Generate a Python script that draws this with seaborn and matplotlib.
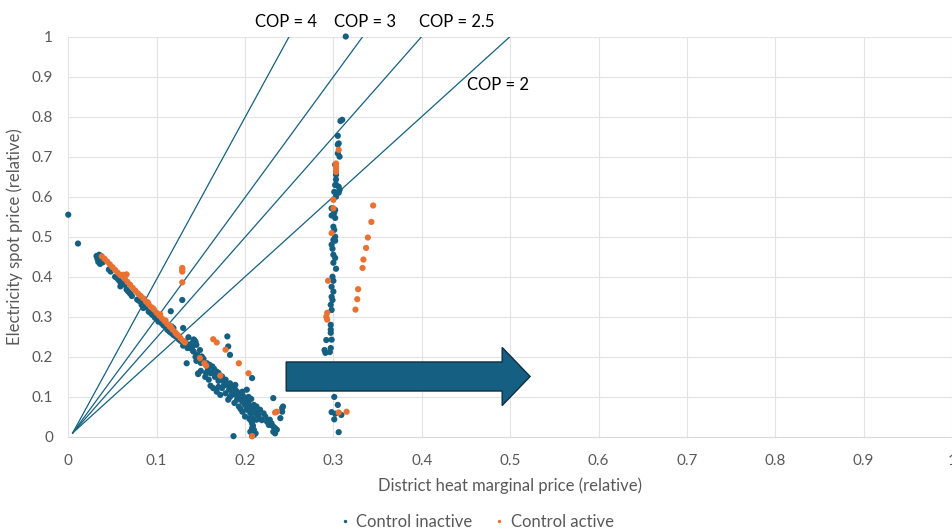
import numpy as np
import pandas as pd
import matplotlib
matplotlib.use("Agg")
import matplotlib.pyplot as plt
import matplotlib.patches as mpatches
import seaborn as sns

# 控制未启用 (blue) points: district heat price, electricity price
inactive_x = [
    0.000, 0.011,
    0.032, 0.035, 0.037, 0.033, 0.036, 0.034, 0.038, 0.039, 0.036,
    0.046, 0.048, 0.053, 0.055, 0.057, 0.059, 0.061, 0.059, 0.064, 0.066,
    0.068, 0.070, 0.072, 0.078, 0.080, 0.082, 0.083, 0.085, 0.088, 0.091,
    0.093, 0.095, 0.098, 0.100, 0.102, 0.104, 0.106, 0.108, 0.110, 0.112,
    0.114, 0.115, 0.117, 0.119, 0.121, 0.123, 0.125, 0.117, 0.119, 0.116,
    0.129, 0.130,
    0.127, 0.130, 0.132, 0.134, 0.136, 0.138, 0.140, 0.142, 0.144, 0.141,
    0.135, 0.130, 0.136, 0.142, 0.140, 0.145, 0.149,
    0.134, 0.146, 0.147, 0.147, 0.159, 0.161, 0.164, 0.131, 0.138, 0.142,
    0.151, 0.157, 0.163, 0.168, 0.174, 0.178, 0.183, 0.187, 0.191, 0.193,
    0.197, 0.200, 0.202, 0.206, 0.208, 0.208, 0.208, 0.210, 0.212, 0.213,
    0.215, 0.217, 0.221, 0.223, 0.225, 0.227, 0.191, 0.185, 0.181, 0.168,
    0.174, 0.178, 0.197, 0.202, 0.198, 0.204, 0.210, 0.213, 0.193, 0.197,
    0.200, 0.206,
    0.180, 0.181, 0.183, 0.208, 0.187, 0.232, 0.242, 0.228, 0.232, 0.236,
    0.230, 0.243, 0.242, 0.240, 0.234, 0.234, 0.229, 0.232,
    0.153, 0.160, 0.165, 0.170, 0.172, 0.176, 0.180, 0.185, 0.189, 0.194,
    0.199, 0.203, 0.206, 0.210, 0.212, 0.205, 0.207, 0.209, 0.210, 0.208,
    0.161, 0.170, 0.172, 0.183, 0.188, 0.195, 0.150, 0.155,
    0.176, 0.182, 0.186, 0.190, 0.194, 0.196, 0.199, 0.201, 0.203, 0.205,
    0.207, 0.209, 0.211, 0.214, 0.216, 0.219, 0.204, 0.207, 0.189, 0.166,
    0.170, 0.163, 0.158, 0.156, 0.145, 0.144, 0.150,
    0.314, 0.308, 0.310, 0.305, 0.305, 0.307, 0.303, 0.303, 0.306, 0.301,
    0.306, 0.303, 0.301, 0.302, 0.300, 0.301, 0.302, 0.300, 0.302, 0.300,
    0.303, 0.299, 0.300, 0.298, 0.300, 0.298, 0.299, 0.297, 0.298, 0.297,
    0.297, 0.297, 0.298, 0.297, 0.296, 0.306, 0.305, 0.302, 0.303, 0.302,
    0.307, 0.302, 0.298, 0.302, 0.298, 0.300, 0.298, 0.299,
    0.292, 0.290, 0.291,
    0.301, 0.305, 0.298, 0.302, 0.301, 0.309, 0.306,
]
inactive_y = [
    0.555, 0.483,
    0.452, 0.455, 0.452, 0.445, 0.440, 0.437, 0.443, 0.436, 0.432,
    0.418, 0.413, 0.400, 0.397, 0.392, 0.386, 0.384, 0.376, 0.380, 0.368,
    0.363, 0.358, 0.352, 0.343, 0.340, 0.338, 0.330, 0.322, 0.325, 0.313,
    0.310, 0.305, 0.298, 0.295, 0.288, 0.290, 0.283, 0.278, 0.276, 0.268,
    0.265, 0.262, 0.259, 0.255, 0.252, 0.250, 0.244, 0.276, 0.272, 0.314,
    0.342, 0.272,
    0.240, 0.236, 0.238, 0.232, 0.230, 0.226, 0.222, 0.243, 0.238, 0.215,
    0.222, 0.228, 0.249, 0.243, 0.234, 0.230, 0.217,
    0.184, 0.205, 0.159, 0.157, 0.143, 0.159, 0.122, 0.234, 0.222, 0.213,
    0.201, 0.184, 0.176, 0.163, 0.151, 0.143, 0.134, 0.122, 0.113, 0.101,
    0.088, 0.080, 0.068, 0.059, 0.047, 0.034, 0.022, 0.018, 0.009, 0.043,
    0.055, 0.068, 0.059, 0.051, 0.038, 0.030, 0.093, 0.105, 0.093, 0.113,
    0.122, 0.109, 0.113, 0.118, 0.101, 0.088, 0.080, 0.076, 0.076, 0.063,
    0.051, 0.013,
    0.251, 0.226, 0.205, 0.147, 0.002, 0.097, 0.072, 0.043, 0.026, 0.018,
    0.034, 0.076, 0.063, 0.047, 0.022, 0.009, 0.030, 0.013,
    0.195, 0.180, 0.170, 0.160, 0.150, 0.138, 0.130, 0.125, 0.118, 0.108,
    0.095, 0.085, 0.075, 0.068, 0.065, 0.045, 0.040, 0.028, 0.005, 0.002,
    0.128, 0.125, 0.105, 0.100, 0.085, 0.070, 0.165, 0.150,
    0.128, 0.118, 0.112, 0.105, 0.098, 0.093, 0.086, 0.090, 0.078, 0.070,
    0.064, 0.072, 0.060, 0.050, 0.047, 0.042, 0.100, 0.095, 0.130, 0.150,
    0.140, 0.160, 0.170, 0.160, 0.190, 0.200, 0.185,
    1.000, 0.789, 0.792, 0.752, 0.730, 0.700, 0.643, 0.630, 0.625, 0.612,
    0.610, 0.600, 0.560, 0.547, 0.525, 0.517, 0.490, 0.455, 0.447, 0.435,
    0.420, 0.400, 0.390, 0.375, 0.363, 0.350, 0.342, 0.330, 0.317, 0.280,
    0.268, 0.260, 0.243, 0.222, 0.212, 0.733, 0.708, 0.680, 0.655, 0.629,
    0.617, 0.567, 0.571, 0.500, 0.480, 0.492, 0.553, 0.470,
    0.242, 0.217, 0.210,
    0.100, 0.080, 0.062, 0.058, 0.044, 0.055, 0.012,
]

# 控制启用 (orange) points
active_x = [
    0.038, 0.041, 0.044, 0.047, 0.050, 0.053, 0.056, 0.059, 0.062, 0.066,
    0.064, 0.067, 0.070, 0.073, 0.076, 0.079, 0.082, 0.085, 0.088, 0.091,
    0.094, 0.097, 0.100, 0.103, 0.106, 0.109, 0.112, 0.115, 0.118, 0.121,
    0.124, 0.127, 0.130, 0.132, 0.090, 0.096, 0.104, 0.110, 0.116, 0.122,
    0.129, 0.129, 0.129, 0.129,
    0.149, 0.154, 0.156, 0.172,
    0.164, 0.168, 0.178, 0.193, 0.204,
    0.234, 0.236, 0.208,
    0.306, 0.303, 0.303, 0.303, 0.303, 0.300, 0.300, 0.298, 0.294, 0.293,
    0.292, 0.293, 0.306, 0.315,
    0.345, 0.343, 0.339, 0.337, 0.334, 0.333, 0.328, 0.327, 0.325,
]
active_y = [
    0.451, 0.445, 0.438, 0.431, 0.424, 0.417, 0.410, 0.404, 0.405, 0.406,
    0.395, 0.387, 0.380, 0.372, 0.365, 0.358, 0.352, 0.346, 0.338, 0.331,
    0.324, 0.318, 0.310, 0.303, 0.296, 0.289, 0.282, 0.275, 0.268, 0.261,
    0.254, 0.247, 0.240, 0.236, 0.336, 0.321, 0.306, 0.291, 0.276, 0.258,
    0.422, 0.418, 0.413, 0.386,
    0.197, 0.184, 0.178, 0.153,
    0.244, 0.236, 0.218, 0.184, 0.159,
    0.061, 0.063, 0.002,
    0.717, 0.683, 0.675, 0.667, 0.662, 0.592, 0.571, 0.509, 0.390, 0.310,
    0.300, 0.293, 0.061, 0.063,
    0.578, 0.537, 0.498, 0.472, 0.443, 0.422, 0.369, 0.344, 0.318,
]

cop_values = [4, 3, 2.5, 2]
cop_labels = ["COP = 4", "COP = 3", "COP = 2.5", "COP = 2"]
ticks = [0, 0.1, 0.2, 0.3, 0.4, 0.5, 0.6, 0.7, 0.8, 0.9, 1]
tick_labels = ["0", "0.1", "0.2", "0.3", "0.4", "0.5", "0.6", "0.7", "0.8", "0.9", "1"]

blue = "#156082"
orange = "#E97132"
grey = "#595959"

plt.rcParams['font.family'] = ['Lato', 'DejaVu Sans']

df = pd.DataFrame({
    "heat": inactive_x + active_x,
    "elec": inactive_y + active_y,
    "state": ["Control inactive"] * len(inactive_x) + ["Control active"] * len(active_x),
})

fig = plt.figure(figsize=(9.52, 5.29), dpi=100)
ax = fig.add_axes([0.0717, 0.174, 0.9283, 0.757])

# COP lines: electricity = COP * heat
for cop in cop_values:
    ax.plot([0.005, 1 / cop], [0.01, 1], color=blue, lw=0.9, zorder=2)

sns.scatterplot(data=df, x="heat", y="elec", hue="state",
                palette={"Control inactive": blue, "Control active": orange},
                s=20, linewidth=0, ax=ax, zorder=3, clip_on=False)

# big arrow
arrow = mpatches.FancyArrow(0.2466, 0.151, 0.276, 0.0, width=0.0725,
                            head_width=0.145, head_length=0.0316,
                            length_includes_head=True, facecolor=blue,
                            edgecolor="#0E2F40", lw=1.0, zorder=4)
ax.add_patch(arrow)

label_pos = [(0.246, 1.037), (0.336, 1.037), (0.440, 1.037), (0.486, 0.879)]
for lab, (lx, ly) in zip(cop_labels, label_pos):
    ax.text(lx, ly, lab, ha="center", va="center", fontsize=12,
            color="black", clip_on=False)

ax.set_xlim(0, 1)
ax.set_ylim(0, 1)
ax.set_xticks(ticks)
ax.set_xticklabels(tick_labels)
ax.set_yticks(ticks)
ax.set_yticklabels(tick_labels)
ax.tick_params(length=0, labelsize=11, colors=grey)
ax.tick_params(axis="x", pad=12)
ax.tick_params(axis="y", pad=11)
ax.grid(True, color="#E3E3E3", lw=0.8, zorder=0)
ax.set_axisbelow(True)
for side in ["top", "right", "left"]:
    ax.spines[side].set_visible(False)
ax.spines["bottom"].set_color("#D9D9D9")

ax.set_xlabel("District heat marginal price (relative)", fontsize=12,
              color=grey, labelpad=7)
ax.set_ylabel("Electricity spot price (relative)", fontsize=12, color=grey)
ax.yaxis.set_label_coords(-0.051, 0.5)

sns.move_legend(ax, "center", bbox_to_anchor=(0.5, -0.2), ncol=2,
                frameon=False, title=None, fontsize=12, markerscale=0.55,
                handlelength=0.8, handletextpad=0.3, columnspacing=1.2,
                labelcolor=grey)
ax.get_legend().set_bbox_to_anchor((0.5, 0.013), transform=fig.transFigure)

fig.savefig("out.png", dpi=100)
